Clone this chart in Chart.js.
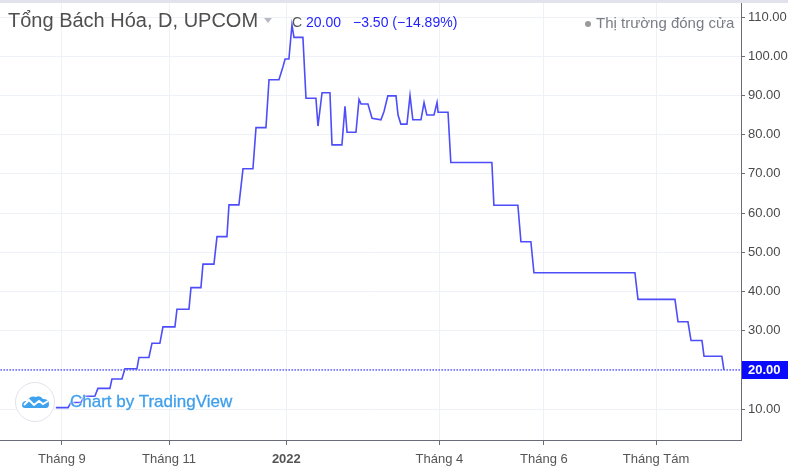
<!DOCTYPE html>
<html>
<head>
<meta charset="utf-8">
<script src="https://cdn.jsdelivr.net/npm/chart.js@4.4.0/dist/chart.umd.min.js"></script>
<style>
  body { margin: 0; background: #fff; font-family: 'Liberation Sans', Arial, sans-serif; }
  #wrap { position: relative; width: 788px; height: 472px; overflow: hidden; }
  #topbar { position: absolute; left: 0; top: 0; width: 788px; height: 3px; background: #e0e3eb; }
  .abs { position: absolute; white-space: nowrap; line-height: 1; }
  #title { left: 8px; top: 10px; font-size: 20px; color: #4f4f4f; }
  #caret { left: 264px; top: 18px; width: 0; height: 0; border-left: 4px solid transparent; border-right: 4px solid transparent; border-top: 5px solid #b7bac2; }
  #cLbl { left: 292px; top: 15px; font-size: 14px; color: #555; }
  #cVal { left: 306px; top: 15px; font-size: 14px; color: #1f1fff; }
  #cChg { left: 353px; top: 15px; font-size: 14px; color: #1f1fff; }
  #dot { left: 585px; top: 21px; width: 6px; height: 6px; border-radius: 3px; background: #9a9a9a; }
  #status { left: 596px; top: 15px; font-size: 15px; color: #7a7d86; }
  #logo { left: 15px; top: 382px; width: 38px; height: 38px; border-radius: 20px; border: 1px solid #e0e3eb; background: #fff; }
  #logo svg { position: absolute; left: 6px; top: 12px; }
  #wm { left: 70px; top: 393px; font-size: 17px; color: #3f9fec; -webkit-text-stroke: 0.3px #3f9fec; text-shadow: 0 0 2px #fff, 0 0 2px #fff, 0 0 3px #fff; }
</style>
</head>
<body>
<div id="wrap">
  <canvas id="priceChart" width="788" height="472"></canvas>
  <div id="topbar"></div>
  <div id="title" class="abs">Tổng Bách Hóa, D, UPCOM</div>
  <div id="caret" class="abs"></div>
  <div id="cLbl" class="abs">C</div>
  <div id="cVal" class="abs"></div>
  <div id="cChg" class="abs"></div>
  <div id="dot" class="abs"></div>
  <div id="status" class="abs">Thị trường đóng cửa</div>
  <div id="logo" class="abs">
    <svg width="27" height="13" viewBox="0 0 27 13">
      <path d="M3 13 Q0 13 0 10 Q0 6 5 6 Q8 0 14 2 Q18 0 21 4 Q27 4 27 9 Q27 13 24 13 Z" fill="#3fa2ee"/>
      <path d="M2 10 L7 5 L12 10 L17 6 L21 9 L26 6" stroke="#fff" stroke-width="2" fill="none"/>
    </svg>
  </div>
  <div id="wm" class="abs">Chart by TradingView</div>
</div>
<script>
    // trading-day index (0 = dau thang 9/2021) and daily close at each turning point
    const days = [-2.4, 2.4, 3.5, 7.5, 8.6, 12.9, 14.1, 18.8, 19.6, 23.5, 24.7, 29.4, 30.2, 34.1,
        35.3, 38.4, 39.6, 44.3, 45.1, 49.8, 50.6, 54.5, 55.3, 59.6, 60.8, 64.7, 65.5, 69.4,
        71.0, 74.9, 76.1, 80.0, 81.2, 85.1, 86.7, 87.5, 89.0, 90.2, 91.0, 94.5, 95.7, 99.6,
        100.4, 102.0, 105.1, 105.9, 109.8, 111.0, 111.8, 115.3, 116.5, 117.3, 120.0, 121.6,
        125.1, 126.3, 127.8, 131.0, 131.8, 132.9, 135.3, 136.5, 137.6, 140.8, 142.0, 143.1,
        145.9, 147.1, 147.5, 151.4, 152.5, 168.6, 169.4, 178.8, 180.0, 183.9, 185.1, 224.7,
        225.9, 240.4, 241.6, 245.5, 246.7, 251.0, 251.8, 258.8, 259.6];
    const closes = [10.4, 10.4, 11.7, 11.7, 13.3, 13.3, 15.3, 15.3, 17.7, 17.7, 20.3, 20.3, 23.2, 23.2,
        26.8, 26.8, 31.0, 31.0, 35.5, 35.5, 41.0, 41.0, 47.0, 47.0, 54.0, 54.0, 62.1, 62.1,
        71.3, 71.3, 81.8, 81.8, 94.0, 94.0, 97.4, 99.3, 99.3, 108.0, 104.8, 104.8, 89.3, 89.3,
        82.2, 90.7, 90.7, 77.4, 77.4, 87.2, 80.6, 80.6, 89.0, 87.8, 87.8, 84.2,
        83.8, 85.9, 89.9, 89.9, 85.0, 82.7, 82.7, 90.0, 83.8, 83.8, 88.2, 85.0,
        85.0, 88.2, 85.7, 85.7, 72.9, 72.9, 62.0, 62.0, 52.7, 52.7, 44.8, 44.8,
        38.0, 38.0, 32.3, 32.3, 27.5, 27.5, 23.5, 23.5, 20.0];

    const monthTicks = [0, 42, 88, 148, 189, 233];
    const monthLabels = ['Tháng 9', 'Tháng 11', '2022', 'Tháng 4', 'Tháng 6', 'Tháng Tám'];
    const priceTicks = [10, 20, 30, 40, 50, 60, 70, 80, 90, 100, 110];

    const lastClose = 20.00;
    const change = -3.50;
    const changePct = -14.89;

    const minus = (n) => (n < 0 ? '\u2212' : '+') + Math.abs(n).toFixed(2);
    document.getElementById('cVal').textContent = lastClose.toFixed(2);
    document.getElementById('cChg').textContent = minus(change) + ' (' + minus(changePct) + '%)';

    const blue = '#4d4dfa';
    const gridColor = '#eef1f6';
    const axisColor = '#6a6d78';

    const priceLabel = {
        id: 'priceLabel',
        afterDraw(chart) {
            const ctx = chart.ctx;
            const y = chart.scales.y.getPixelForValue(lastClose);
            const x = chart.chartArea.right + 1;
            ctx.save();
            ctx.fillStyle = '#0a0aff';
            ctx.fillRect(x, Math.round(y) - 9, 788 - x, 18);
            ctx.fillStyle = '#fff';
            ctx.font = 'bold 13px "Liberation Sans", Arial, sans-serif';
            ctx.textBaseline = 'middle';
            ctx.fillText(lastClose.toFixed(2), 748, Math.round(y) + 0.5);
            ctx.restore();
        }
    };

    const ctx1 = document.getElementById('priceChart').getContext('2d');
    const myChart = new Chart(ctx1, {
        type: 'line',
        data: {
            datasets: [{
                data: days.map((d, i) => ({ x: d, y: closes[i] })),
                borderColor: blue,
                borderWidth: 1.6,
                pointRadius: 0,
                tension: 0
            }, {
                data: [{ x: -30, y: lastClose }, { x: 270, y: lastClose }],
                borderColor: '#1010ff',
                borderWidth: 1,
                borderDash: [1.5, 1.5],
                pointRadius: 0
            }]
        },
        options: {
            responsive: false,
            animation: false,
            layout: { padding: { top: 3, left: 0, right: 0, bottom: 0 } },
            plugins: {
                legend: { display: false },
                tooltip: { enabled: false }
            },
            scales: {
                x: {
                    type: 'linear',
                    position: 'bottom',
                    min: -24.3,
                    max: 266.3,
                    afterBuildTicks: (s) => { s.ticks = monthTicks.map(v => ({ value: v })); },
                    afterFit: (s) => { s.height = 32; s.paddingLeft = 0; s.paddingRight = 0; },
                    grid: { color: gridColor, tickColor: axisColor, tickLength: 5 },
                    border: { color: axisColor },
                    ticks: {
                        autoSkip: false,
                        maxRotation: 0,
                        padding: 7,
                        color: '#555',
                        font: (c) => ({
                            family: '"Liberation Sans", Arial, sans-serif',
                            size: 13,
                            weight: c.index === 2 ? 'bold' : 'normal'
                        }),
                        callback: (v, i) => monthLabels[i]
                    }
                },
                y: {
                    type: 'linear',
                    position: 'right',
                    min: 2.15,
                    max: 113.57,
                    afterBuildTicks: (s) => { s.ticks = priceTicks.map(v => ({ value: v })); },
                    afterFit: (s) => { s.width = 47; s.paddingTop = 0; s.paddingBottom = 0; },
                    grid: { color: gridColor, tickColor: axisColor, tickLength: 4 },
                    border: { color: axisColor },
                    ticks: {
                        padding: 3,
                        color: '#4a4a4a',
                        font: { family: '"Liberation Sans", Arial, sans-serif', size: 13 },
                        callback: (v) => Number(v).toFixed(2)
                    }
                }
            }
        },
        plugins: [priceLabel]
    });
</script>
</body>
</html>
